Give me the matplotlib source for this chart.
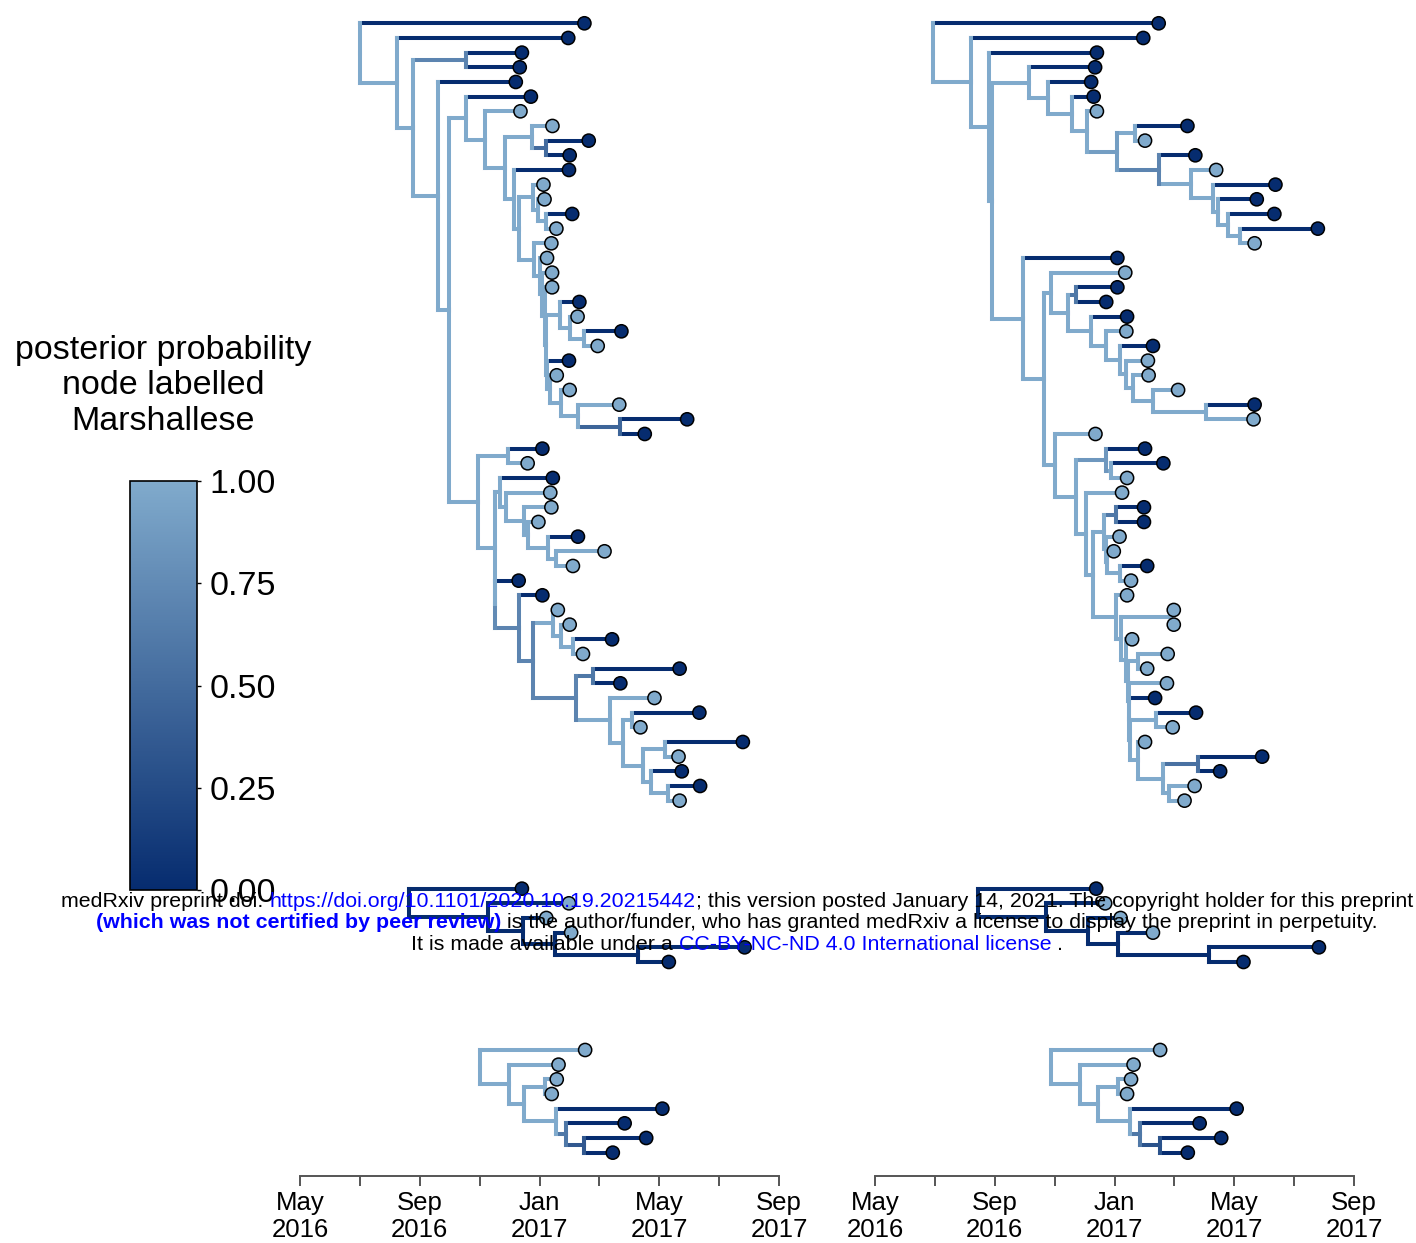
import numpy as np
import matplotlib
matplotlib.use("Agg")
import matplotlib.pyplot as plt
from matplotlib.collections import LineCollection
from matplotlib.colors import LinearSegmentedColormap

plt.rcParams['font.family'] = ['Liberation Sans', 'DejaVu Sans']

# tree nodes: tip = (date, prob), internal = (date, prob, [children])
# date is decimal year, prob = posterior probability node labelled Marshallese

LEFT_MAIN = (2016.499, 1, [
    (2017.125, 0),
    (2016.603, 1, [
        (2017.080, 0),
        (2016.649, 1, [
            (2016.796, 0.7, [(2016.951, 0), (2016.945, 0)]),
            (2016.718, 1, [
                (2016.934, 0),
                (2016.748, 1, [
                    (2016.796, 1, [
                        (2016.976, 0),
                        (2016.849, 1, [
                            (2016.947, 1),
                            (2016.905, 1, [
                                (2016.980, 1, [(2017.036, 1), (2017.017, 0.5, [(2017.137, 0), (2017.084, 0)])]),
                                (2016.930, 1, [
                                    (2017.082, 0),
                                    (2016.944, 1, [
                                        (2016.983, 1, [(2017.011, 1), (2016.997, 1, [(2017.014, 1), (2017.019, 1, [(2017.091, 0), (2017.047, 1)])])]),
                                        (2016.986, 1, [
                                            (2017.033, 1),
                                            (2017.000, 1, [
                                                (2017.021, 1),
                                                (2017.008, 1, [
                                                    (2017.035, 1),
                                                    (2017.014, 1, [
                                                        (2017.035, 1),
                                                        (2017.019, 1, [
                                                            (2017.056, 1, [(2017.111, 0), (2017.084, 1, [(2017.106, 1), (2017.125, 1, [(2017.228, 0), (2017.162, 1)])])]),
                                                            (2017.022, 1, [(2017.082, 0), (2017.030, 1, [(2017.048, 1), (2017.060, 1, [(2017.084, 1), (2017.107, 1, [(2017.222, 1), (2017.223, 0.45, [(2017.411, 0), (2017.293, 0)])])])])]),
                                                        ]),
                                                    ]),
                                                ]),
                                            ]),
                                        ]),
                                    ]),
                                ]),
                            ]),
                        ]),
                    ]),
                    (2016.828, 1, [
                        (2016.912, 1, [(2017.008, 0), (2016.967, 1)]),
                        (2016.875, 1, [
                            (2016.889, 1, [(2017.037, 0), (2016.907, 1, [(2017.030, 1), (2016.958, 1, [(2017.033, 1), (2016.967, 1, [(2016.997, 1), (2017.023, 1, [(2017.107, 0), (2017.046, 1, [(2017.181, 1), (2017.093, 1)])])])])])]),
                            (2016.876, 0.75, [
                                (2016.942, 0),
                                (2016.944, 0.7, [
                                    (2017.008, 0),
                                    (2016.981, 0.7, [
                                        (2017.037, 1, [(2017.051, 1), (2017.060, 1, [(2017.084, 1), (2017.093, 1, [(2017.202, 0), (2017.121, 1)])])]),
                                        (2017.102, 0.7, [
                                            (2017.148, 0.6, [(2017.390, 0), (2017.225, 0)]),
                                            (2017.195, 1, [
                                                (2017.320, 1),
                                                (2017.232, 1, [
                                                    (2017.258, 1, [(2017.445, 0), (2017.281, 1)]),
                                                    (2017.288, 1, [
                                                        (2017.348, 1, [(2017.566, 0), (2017.387, 1)]),
                                                        (2017.311, 1, [(2017.396, 0), (2017.357, 1, [(2017.447, 0), (2017.390, 1)])]),
                                                    ]),
                                                ]),
                                            ]),
                                        ]),
                                    ]),
                                ]),
                            ]),
                        ]),
                    ]),
                ]),
            ]),
        ]),
    ]),
])

LEFT_SMALL1 = (2016.638, 1, [(2016.951, 0), (2016.856, 1, [(2017.082, 1), (2016.954, 1, [(2017.019, 1), (2017.042, 1, [(2017.088, 1), (2017.274, 1, [(2017.571, 0), (2017.360, 0)])])])])])
LEFT_SMALL2 = (2016.833, 1, [(2017.127, 1), (2016.916, 1, [(2017.053, 1), (2016.958, 1, [(2017.014, 1, [(2017.048, 1), (2017.034, 1)]), (2017.046, 1, [(2017.342, 0), (2017.074, 0.6, [(2017.237, 0), (2017.125, 0.35, [(2017.297, 0), (2017.204, 0)])])])])])])

RIGHT_MAIN = (2016.494, 1, [
    (2017.123, 0),
    (2016.601, 1, [
        (2017.080, 0),
        (2016.652, 1, [
            (2016.951, 0),
            (2016.658, 1, [
                (2016.763, 1, [
                    (2016.946, 0),
                    (2016.816, 1, [
                        (2016.935, 0),
                        (2016.882, 1, [
                            (2016.942, 0),
                            (2016.923, 1, [
                                (2016.951, 1),
                                (2017.006, 0.9, [
                                    (2017.056, 1, [(2017.203, 0), (2017.085, 1)]),
                                    (2017.125, 0.7, [
                                        (2017.225, 0),
                                        (2017.213, 1, [
                                            (2017.283, 1),
                                            (2017.274, 1, [(2017.448, 0), (2017.288, 1, [(2017.396, 0), (2017.315, 1, [(2017.445, 0), (2017.348, 1, [(2017.566, 0), (2017.390, 1)])])])]),
                                        ]),
                                    ]),
                                ]),
                            ]),
                        ]),
                    ]),
                ]),
                (2016.745, 1, [
                    (2017.008, 0),
                    (2016.805, 1, [
                        (2016.824, 1, [
                            (2017.030, 1),
                            (2016.870, 1, [
                                (2016.893, 0.6, [(2017.008, 0), (2016.977, 0)]),
                                (2016.935, 1, [(2017.035, 0), (2016.977, 1, [(2017.033, 1), (2017.014, 1, [(2017.107, 0), (2017.033, 1, [(2017.093, 1), (2017.051, 1, [(2017.095, 1), (2017.107, 1, [(2017.177, 1), (2017.255, 1, [(2017.390, 0), (2017.387, 1)])])])])])])]),
                            ]),
                        ]),
                        (2016.833, 1, [
                            (2016.947, 1),
                            (2016.893, 1, [
                                (2016.977, 0.85, [(2017.085, 0), (2016.991, 1, [(2017.136, 0), (2017.035, 1)])]),
                                (2016.921, 1, [
                                    (2017.021, 1),
                                    (2016.940, 1, [
                                        (2016.972, 1, [
                                            (2017.005, 0.6, [(2017.082, 0), (2017.082, 0)]),
                                            (2016.977, 1, [(2017.014, 1), (2016.979, 1, [(2016.998, 1), (2017.014, 1, [(2017.091, 0), (2017.046, 1)])])]),
                                        ]),
                                        (2017.005, 1, [
                                            (2017.035, 1),
                                            (2017.019, 1, [
                                                (2017.156, 1, [(2017.165, 1), (2017.165, 1)]),
                                                (2017.033, 1, [
                                                    (2017.049, 1),
                                                    (2017.037, 1, [
                                                        (2017.065, 1, [(2017.148, 1), (2017.091, 1)]),
                                                        (2017.039, 1, [
                                                            (2017.146, 1),
                                                            (2017.040, 1, [
                                                                (2017.113, 0),
                                                                (2017.042, 1, [
                                                                    (2017.116, 1, [(2017.227, 0), (2017.162, 1)]),
                                                                    (2017.065, 1, [(2017.085, 1), (2017.134, 1, [(2017.232, 0.55, [(2017.411, 0), (2017.294, 0)]), (2017.153, 1, [(2017.223, 1), (2017.195, 1)])])]),
                                                                ]),
                                                            ]),
                                                        ]),
                                                    ]),
                                                ]),
                                            ]),
                                        ]),
                                    ]),
                                ]),
                            ]),
                        ]),
                    ]),
                ]),
            ]),
        ]),
    ]),
])

RIGHT_SMALL1 = (2016.619, 1, [(2016.949, 0), (2016.810, 1, [(2016.974, 1), (2016.926, 1, [(2017.017, 1), (2017.009, 1, [(2017.107, 1), (2017.264, 1, [(2017.569, 0), (2017.359, 0)])])])])])
RIGHT_SMALL2 = (2016.824, 1, [(2017.127, 1), (2016.905, 1, [(2017.053, 1), (2016.955, 1, [(2017.009, 1, [(2017.046, 1), (2017.035, 1)]), (2017.042, 1, [(2017.340, 0), (2017.072, 0.6, [(2017.237, 0), (2017.127, 0.3, [(2017.297, 0), (2017.204, 0)])])])])])])

# first tip row of each tree
ROW_OFFSETS = [0, 59, 70]

tick_months = [(2016, 5), (2016, 7), (2016, 9), (2016, 11), (2017, 1),
               (2017, 3), (2017, 5), (2017, 7), (2017, 9)]
tick_labels = ["May\n2016", "", "Sep\n2016", "", "Jan\n2017", "",
               "May\n2017", "", "Sep\n2017"]

cbar_ticks = [0.0, 0.25, 0.5, 0.75, 1.0]
cbar_title = "posterior probability\nnode labelled\nMarshallese"

watermark = [
    [("medRxiv preprint doi:", "black", "normal", False),
     ("https://doi.org/10.1101/2020.10.19.20215442", "blue", "normal", True),
     ("; this version posted January 14, 2021. The copyright holder for this preprint", "black", "normal", False)],
    [("(which was not certified by peer review)", "blue", "bold", False),
     ("is the author/funder, who has granted medRxiv a license to display the preprint in perpetuity.", "black", "normal", True)],
    [("It is made available under a", "black", "normal", False),
     ("CC-BY-NC-ND 4.0 International license", "blue", "normal", True),
     (".", "black", "normal", True)],
]

cmap = LinearSegmentedColormap.from_list("marsh", ["#062C6F", "#80AACC"])

W, H = 1416, 1243
fig = plt.figure(figsize=(W / 100, H / 100), dpi=100)


def layout(tree, row0):
    segs, vals, tips = [], [], []
    row = [row0]

    def walk(node):
        if len(node) == 2:
            y = row[0]
            row[0] += 1
            tips.append((node[0], y, node[1]))
            return y
        ys = [walk(c) for c in node[2]]
        y = np.mean(ys)
        for c, cy in zip(node[2], ys):
            # horizontal branch takes the child's value, the vertical joint the parent's
            segs.append([(node[0], cy), (c[0], cy)])
            vals.append(c[1])
            segs.append([(node[0], y), (node[0], cy)])
            vals.append(node[1])
        return y

    walk(tree)
    return segs, vals, tips


def dec(y, m):
    return y + (m - 1) / 12.0


def draw_panel(ax, trees):
    for tree, r0 in zip(trees, ROW_OFFSETS):
        segs, vals, tips = layout(tree, r0)
        lc = LineCollection(segs, colors=cmap(np.array(vals)), linewidths=2.9,
                            capstyle='projecting', zorder=2)
        ax.add_collection(lc)
        tx = [t[0] for t in tips]
        ty = [t[1] for t in tips]
        tp = [t[2] for t in tips]
        ax.scatter(tx, ty, c=tp, cmap=cmap, vmin=0, vmax=1, s=90,
                   edgecolors='black', linewidths=1.1, zorder=3, clip_on=False)
    ticks = [dec(y, m) for y, m in tick_months]
    ax.set_xlim(ticks[0], ticks[-1])
    row_px = 14.667
    ax.set_ylim((1176 - 23.3) / row_px, -23.3 / row_px)
    for s in ['left', 'right', 'top']:
        ax.spines[s].set_visible(False)
    ax.spines['bottom'].set_color('#555555')
    ax.spines['bottom'].set_linewidth(1.4)
    ax.set_yticks([])
    ax.set_xticks(ticks)
    ax.set_xticklabels(tick_labels, fontsize=18.5)
    ax.tick_params(axis='x', direction='out', length=7.5, width=1.4,
                   color='#555555', pad=3)
    ax.set_facecolor('none')


ax_l = fig.add_axes([300 / W, (H - 1176) / H, 479 / W, 1176 / H])
ax_r = fig.add_axes([875 / W, (H - 1176) / H, 479 / W, 1176 / H])
draw_panel(ax_l, [LEFT_MAIN, LEFT_SMALL1, LEFT_SMALL2])
draw_panel(ax_r, [RIGHT_MAIN, RIGHT_SMALL1, RIGHT_SMALL2])

# colour bar
cax = fig.add_axes([130 / W, (H - 890) / H, 67 / W, 409 / H])
sm = plt.cm.ScalarMappable(cmap=cmap, norm=plt.Normalize(0, 1))
cb = fig.colorbar(sm, cax=cax, ticks=cbar_ticks)
cb.ax.set_yticklabels(["%.2f" % v for v in cbar_ticks], fontsize=24.5)
cb.ax.tick_params(length=3, width=1, color='black', pad=6)
cb.outline.set_linewidth(1.2)
fig.text(163 / W, 1 - 386 / H, cbar_title, ha='center', va='center',
         fontsize=24.5, linespacing=1.2)

# medRxiv watermark, pieces laid out one after another on each line
renderer = fig.canvas.get_renderer()
wm_size = 15.4
probe_a = fig.text(0, 0, "x x", fontsize=wm_size)
probe_b = fig.text(0, 0, "xx", fontsize=wm_size)
space_w = (probe_a.get_window_extent(renderer).width
           - probe_b.get_window_extent(renderer).width)
probe_a.remove()
probe_b.remove()

baselines = [907, 928, 950]
for line, base in zip(watermark, baselines):
    pieces = []
    total = 0.0
    for text, color, weight, sp in line:
        t = fig.text(0, 1 - base / H, text, color=color, fontweight=weight,
                     fontsize=wm_size, va='baseline', ha='left', zorder=10)
        w = t.get_window_extent(renderer).width
        gap = space_w if sp else 0.0
        pieces.append((t, gap, w))
        total += gap + w
    x = 737 - total / 2
    for t, gap, w in pieces:
        x += gap
        t.set_x(x / W)
        x += w

fig.savefig("out.png", dpi=100)
